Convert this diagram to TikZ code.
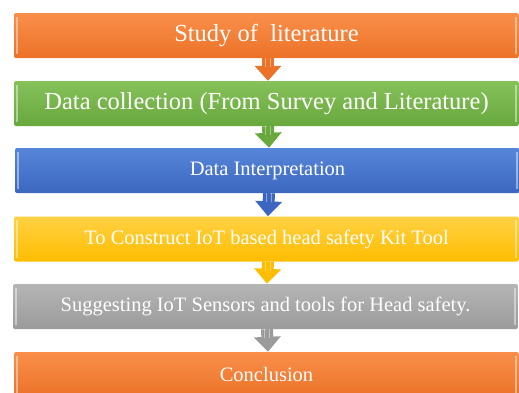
\documentclass[tikz,border=0pt]{standalone}
\usepackage{fontspec}
\setmainfont{Liberation Serif}
\usepackage{xcolor}
\usetikzlibrary{arrows.meta,calc}

\definecolor{orgtop}{HTML}{F98F4B}
\definecolor{orgbot}{HTML}{EC7227}
\definecolor{grntop}{HTML}{86C15A}
\definecolor{grnbot}{HTML}{68A83D}
\definecolor{blutop}{HTML}{5686D9}
\definecolor{blubot}{HTML}{3C67C0}
\definecolor{yeltop}{HTML}{FFD143}
\definecolor{yelbot}{HTML}{FFBD00}
\definecolor{grytop}{HTML}{B5B5B5}
\definecolor{grybot}{HTML}{9B9B9B}

\begin{document}
\begin{tikzpicture}[x=1pt, y=-1pt, >=Stealth, line join=round,
  stepbox/.style={rectangle, rounded corners=2pt, minimum width=505pt, minimum height=45pt,
    inner sep=0pt, text=white, font=\fontsize{20.5}{24}\selectfont},
  bigtext/.style={font=\fontsize{24.5}{28}\selectfont},
  flow/.style={line width=12pt, -{Triangle[width=26pt,length=15pt]}}]
  \useasboundingbox (0,0) rectangle (519,392);
  \clip (0,0) rectangle (519,392);
  % boxes
  \node[stepbox, bigtext, top color=orgtop, bottom color=orgbot] (lit) at (266.5,35.5) {Study of \ literature};
  \node[stepbox, bigtext, top color=grntop, bottom color=grnbot] (coll) at (266.5,103.5) {Data collection (From Survey and Literature)};
  \node[stepbox, top color=blutop, bottom color=blubot] (interp) at (267.5,170.5) {Data Interpretation};
  \node[stepbox, top color=yeltop, bottom color=yelbot] (kit) at (266.5,239) {To Construct IoT based head safety Kit Tool};
  \node[stepbox, top color=grytop, bottom color=grybot] (sens) at (265.5,306.5) {Suggesting IoT Sensors and tools for Head safety.};
  \node[stepbox, top color=orgtop, bottom color=orgbot] (concl) at (266.5,374.5) {Conclusion};
  % bevel edges
  \foreach \n in {lit,coll,interp,kit,sens,concl} {
    \draw[white, opacity=0.45, line width=2pt] ([xshift=3pt,yshift=-4pt]\n.north west) -- ([xshift=3pt,yshift=4pt]\n.south west);
    \draw[white, opacity=0.45, line width=2pt] ([xshift=-3pt,yshift=-4pt]\n.north east) -- ([xshift=-3pt,yshift=4pt]\n.south east);
  }
  % arrows
  \foreach \a/\b/\c in {lit/coll/orgbot, coll/interp/grnbot, interp/kit/blubot, kit/sens/yelbot, sens/concl/grybot} {
    \draw[flow, \c] ([xshift=1.5pt]\a.south) -- ([xshift=1.5pt]\b.north);
    \draw[white, opacity=0.4, line width=1.5pt] ([xshift=-1pt]\a.south) -- ++(0,9);
    \draw[white, opacity=0.4, line width=1.5pt] ([xshift=4pt]\a.south) -- ++(0,9);
  }
\end{tikzpicture}
\end{document}
